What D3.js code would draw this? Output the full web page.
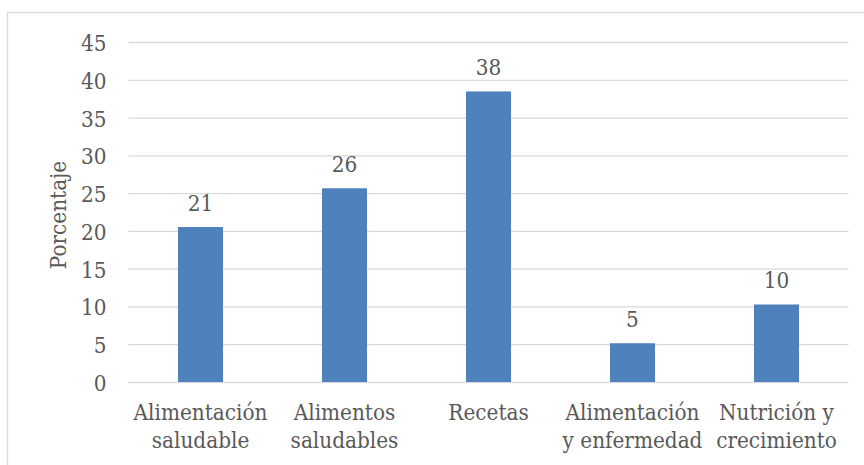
<!DOCTYPE html>
<html>
<head>
<meta charset="utf-8">
<script src="https://cdn.jsdelivr.net/npm/d3@7"></script>
<style>
  html, body { margin: 0; padding: 0; background: #ffffff; }
  svg { display: block; }
  text { font-family: "DejaVu Serif Condensed", "DejaVu Serif", serif; font-stretch: condensed; fill: #595959; }
</style>
</head>
<body>
<svg id="chart" width="864" height="465"></svg>
<script>
// Category names (two display lines each) and percentage per category
const categories = [
  ["Alimentación", "saludable"],
  ["Alimentos", "saludables"],
  ["Recetas"],
  ["Alimentación", "y enfermedad"],
  ["Nutrición y", "crecimiento"]
];
const values = [20.51, 25.64, 38.46, 5.13, 10.26];
const yTicks = [0, 5, 10, 15, 20, 25, 30, 35, 40, 45];
const yTitle = "Porcentaje";

const svg = d3.select("#chart");
const plot = { left: 128.5, right: 848.5, top: 42, bottom: 382 };
const fontSize = 22.3;

// Chart frame
svg.append("rect")
  .attr("x", 7.5).attr("y", 12.5)
  .attr("width", 880).attr("height", 480)
  .attr("fill", "#ffffff")
  .attr("stroke", "#d9d9d9").attr("stroke-width", 1.3);

const x = d3.scaleBand()
  .domain(d3.range(categories.length))
  .range([plot.left, plot.right])
  .paddingInner(0.6875)
  .paddingOuter(0.34375);

const y = d3.scaleLinear().domain([0, 45]).range([plot.bottom, plot.top]);

// Horizontal gridlines with value labels
const yAxis = d3.axisLeft(y)
  .tickValues(yTicks)
  .tickSize(-(plot.right - plot.left))
  .tickPadding(22)
  .tickFormat(d3.format("d"));

const gy = svg.append("g")
  .attr("transform", `translate(${plot.left},0)`)
  .call(yAxis);
gy.select(".domain").remove();
gy.selectAll(".tick line").attr("stroke", "#d9d9d9").attr("stroke-width", 1.3);
gy.selectAll(".tick text")
  .attr("dy", "0.38em")
  .attr("font-size", fontSize)
  .attr("font-family", null)
  .style("fill", "#595959");

// Bars
svg.append("g").selectAll("rect")
  .data(values)
  .join("rect")
  .attr("x", (d, i) => x(i))
  .attr("y", d => y(d))
  .attr("width", x.bandwidth())
  .attr("height", d => y(0) - y(d))
  .attr("fill", "#4f81bd");

// Value labels above bars
svg.append("g").selectAll("text")
  .data(values)
  .join("text")
  .attr("x", (d, i) => x(i) + x.bandwidth() / 2)
  .attr("y", d => y(d) - 16.5)
  .attr("text-anchor", "middle")
  .attr("font-size", fontSize)
  .text(d => d3.format(".0f")(d));

// Category labels
const catG = svg.append("g").selectAll("text")
  .data(categories)
  .join("text")
  .attr("text-anchor", "middle")
  .attr("font-size", fontSize)
  .attr("transform", (d, i) => `translate(${x(i) + x.bandwidth() / 2},420)`);
catG.selectAll("tspan")
  .data(d => d)
  .join("tspan")
  .attr("x", 0)
  .attr("y", (d, j) => j * 28)
  .text(d => d);

// Y-axis title
svg.append("text")
  .attr("transform", `translate(66,${(plot.top + plot.bottom) / 2 + 3}) rotate(-90)`)
  .attr("text-anchor", "middle")
  .attr("font-size", fontSize)
  .text(yTitle);
</script>
</body>
</html>
